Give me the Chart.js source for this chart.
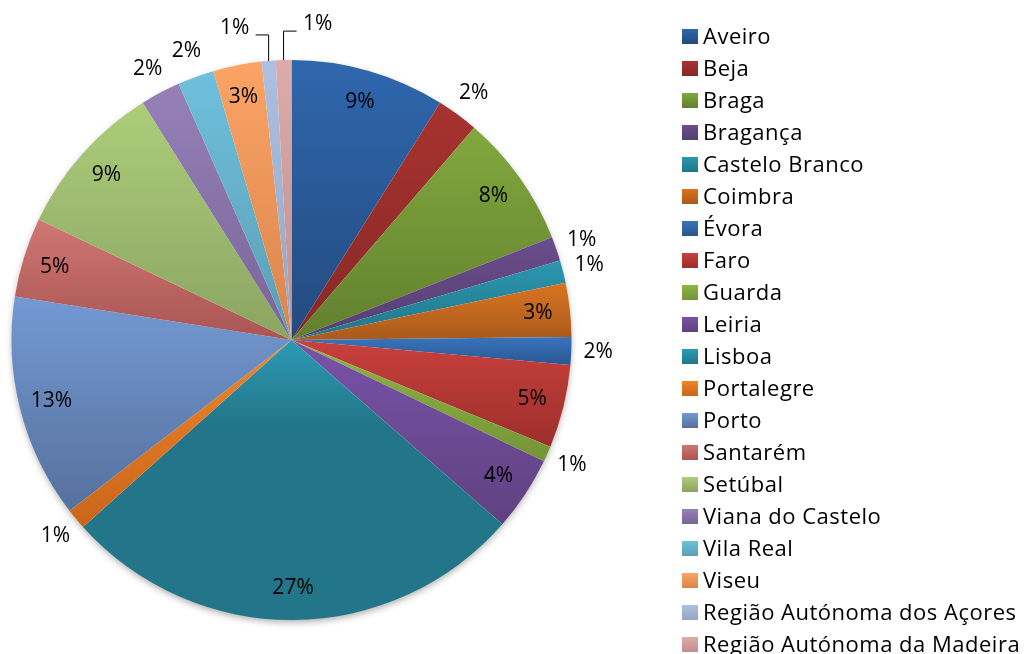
<!DOCTYPE html>
<html>
<head>
<meta charset="utf-8">
<script src="https://cdn.jsdelivr.net/npm/chart.js@4/dist/chart.umd.min.js"></script>
<style>
  html, body { margin: 0; padding: 0; background: #fff; }
  #wrap { width: 1030px; height: 654px; }
</style>
</head>
<body>
<div id="wrap"><canvas id="distritosChart" width="1030" height="654"></canvas></div>
<script>
// ========================================
// Pie chart: distribution by district (%)
// ========================================

const districts = [
  'Aveiro', 'Beja', 'Braga', 'Bragança', 'Castelo Branco', 'Coimbra', 'Évora',
  'Faro', 'Guarda', 'Leiria', 'Lisboa', 'Portalegre', 'Porto', 'Santarém',
  'Setúbal', 'Viana do Castelo', 'Vila Real', 'Viseu',
  'Região Autónoma dos Açores', 'Região Autónoma da Madeira'
];

// share of each district
const shares = [8.9, 2.4, 7.7, 1.4, 1.3, 3.1, 1.6, 4.8, 0.9, 4.3,
                26.9, 1.2, 12.9, 4.6, 9.0, 2.3, 2.1, 2.8, 0.8, 0.9];

// Excel-like gradient fills: lighter at the top, darker at the bottom
const lightColors = [
  '#2F67AE', '#A8322F', '#82A83E', '#6A4D8D', '#2B97B0', '#DA7423', '#3A74BD',
  '#C8403C', '#8DB543', '#7952A8', '#2C9AB5', '#F0852A', '#7399D3', '#D07673',
  '#ADCD7A', '#9580B8', '#6FC0DC', '#FCA465', '#ADC0E2', '#DCABAA'
];
const darkColors = [
  '#234A7E', '#852927', '#627F2E', '#553F70', '#217587', '#A85A1B', '#28558F',
  '#9C2E2B', '#759436', '#5F4180', '#237689', '#C9661B', '#56709C', '#A85553',
  '#8BA462', '#7A6597', '#5A9EB5', '#D8844C', '#95A5C2', '#BE8F8E'
];

const total = shares.reduce((a, b) => a + b, 0);
const FONT = '"Open Sans", Lato, sans-serif';

function pieGeometry(chart) {
  const a = chart.chartArea;
  return {
    cx: (a.left + a.right) / 2,
    cy: (a.top + a.bottom) / 2,
    r: Math.min(a.right - a.left, a.bottom - a.top) / 2
  };
}

// build a vertical gradient over the slice's bounding box
function sliceFill(context) {
  const chart = context.chart;
  const i = context.dataIndex;
  if (!chart.chartArea || i === undefined) return lightColors[i || 0];
  const g = pieGeometry(chart);
  const before = shares.slice(0, i).reduce((a, b) => a + b, 0);
  const start = -Math.PI / 2 + before / total * Math.PI * 2;
  const end = start + shares[i] / total * Math.PI * 2;
  const ys = [g.cy, g.cy + g.r * Math.sin(start), g.cy + g.r * Math.sin(end)];
  if (start <= Math.PI / 2 && end >= Math.PI / 2) ys.push(g.cy + g.r);
  if (end >= Math.PI * 1.5) ys.push(g.cy - g.r);
  const top = Math.min(...ys);
  const bottom = Math.max(...ys);
  const grad = chart.ctx.createLinearGradient(0, top, 0, bottom + 1);
  grad.addColorStop(0, lightColors[i]);
  grad.addColorStop(i === 10 ? 0.3 : 1, darkColors[i]);
  grad.addColorStop(1, darkColors[i]);
  return grad;
}

// soft shadow under the whole pie
const pieShadow = {
  id: 'pieShadow',
  beforeDatasetsDraw(chart) {
    const g = pieGeometry(chart);
    const ctx = chart.ctx;
    ctx.save();
    ctx.shadowColor = 'rgba(0,0,0,0.35)';
    ctx.shadowBlur = 7;
    ctx.shadowOffsetY = 3;
    ctx.beginPath();
    ctx.arc(g.cx, g.cy, g.r - 1, 0, Math.PI * 2);
    ctx.fillStyle = '#ffffff';
    ctx.fill();
    ctx.restore();
  }
};

// percentage labels: inside for big slices, outside for small ones
const percentLabels = {
  id: 'percentLabels',
  afterDatasetsDraw(chart) {
    const ctx = chart.ctx;
    const meta = chart.getDatasetMeta(0);
    ctx.save();
    ctx.font = '21px ' + FONT;
    ctx.fillStyle = '#000';
    ctx.strokeStyle = '#000';
    ctx.lineWidth = 1;
    ctx.textAlign = 'center';
    ctx.textBaseline = 'middle';
    let topLeaders = 0;
    meta.data.forEach((arc, i) => {
      const pct = Math.round(shares[i] / total * 100);
      const text = pct + '%';
      const mid = (arc.startAngle + arc.endAngle) / 2;
      const R = arc.outerRadius;
      const fromTop = Math.abs(mid + Math.PI / 2 - Math.PI * 2);
      if (pct >= 3) {
        const r = R * 0.885;
        ctx.fillText(text, arc.x + Math.cos(mid) * r, arc.y + Math.sin(mid) * r);
      } else if (fromTop < 0.14) {
        // crowded tiny slices at the top get elbow leader lines
        const x0 = arc.x + Math.cos(mid) * R;
        const y0 = arc.y + Math.sin(mid) * R;
        const dir = topLeaders === 0 ? -1 : 1;
        const yl = y0 - (dir < 0 ? 26 : 29);
        const x1 = x0 + dir * 13;
        ctx.beginPath();
        ctx.moveTo(x0, y0);
        ctx.lineTo(x0, yl);
        ctx.lineTo(x1, yl);
        ctx.stroke();
        ctx.fillText(text, x1 + dir * 21, yl - 7);
        topLeaders++;
      } else {
        const r = R + 27;
        ctx.fillText(text, arc.x + Math.cos(mid) * r, arc.y + Math.sin(mid) * r);
      }
    });
    ctx.restore();
  }
};

// legend column on the right
const sideLegend = {
  id: 'sideLegend',
  afterDraw(chart) {
    const ctx = chart.ctx;
    ctx.save();
    ctx.font = '22px ' + FONT;
    ctx.letterSpacing = '0.5px';
    ctx.textAlign = 'left';
    ctx.textBaseline = 'middle';
    chart.data.labels.forEach((label, i) => {
      const y = 29 + i * 32;
      const grad = ctx.createLinearGradient(0, y, 0, y + 15);
      grad.addColorStop(0, lightColors[i]);
      grad.addColorStop(1, darkColors[i]);
      ctx.fillStyle = grad;
      ctx.fillRect(682, y, 16, 15);
      ctx.fillStyle = '#000';
      ctx.fillText(label, 703, y + 8.5);
    });
    ctx.restore();
  }
};

new Chart(document.getElementById('distritosChart'), {
  type: 'pie',
  data: {
    labels: districts,
    datasets: [{
      data: shares,
      backgroundColor: sliceFill,
      borderWidth: 0,
      hoverOffset: 0
    }]
  },
  options: {
    responsive: false,
    animation: false,
    layout: { padding: { left: 11, right: 458, top: 60, bottom: 34 } },
    plugins: {
      legend: { display: false },
      tooltip: { enabled: false }
    }
  },
  plugins: [pieShadow, percentLabels, sideLegend]
});
</script>
</body>
</html>
